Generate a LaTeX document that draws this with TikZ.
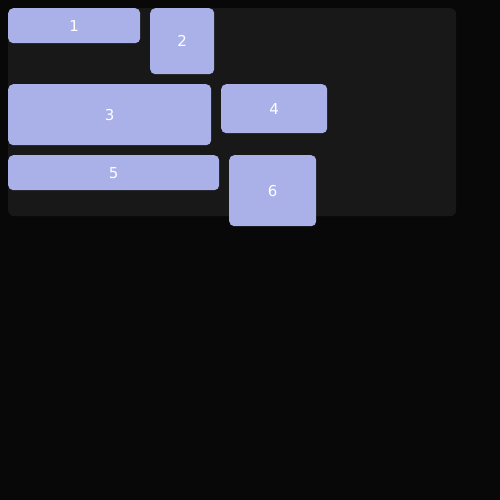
\documentclass[tikz,border=0pt]{standalone}
\usepackage{fontspec}
\setmainfont{DejaVu Sans}
\definecolor{pagebg}{HTML}{080808}
\definecolor{wrapbg}{HTML}{181818}
\definecolor{itembg}{HTML}{AAB1E8}
\tikzset{
  item/.style={fill=itembg, rounded corners=5pt, inner sep=0pt, anchor=north west,
    text=white, font=\fontsize{15}{18}\selectfont},
}
\begin{document}
\begin{tikzpicture}[x=1pt,y=-1pt]
  \fill[pagebg] (0,0) rectangle (500,500);
  \useasboundingbox (0,0) rectangle (500,500);
  \node[fill=wrapbg, rounded corners=6pt, inner sep=0pt, anchor=north west,
    minimum width=448pt, minimum height=208pt] (wrap) at (8,8) {};
  \node[item, minimum width=132pt, minimum height=35pt] (1) at (8,8) {1};
  \node[item, minimum width=64pt, minimum height=66pt] (2) at (150,8) {2};
  \node[item, minimum width=203pt, minimum height=61pt] (3) at (8,84) {3};
  \node[item, minimum width=106pt, minimum height=49pt] (4) at (221,84) {4};
  \node[item, minimum width=211pt, minimum height=35pt] (5) at (8,155) {5};
  \node[item, minimum width=87pt, minimum height=71pt] (6) at (229,155) {6};
\end{tikzpicture}
\end{document}
